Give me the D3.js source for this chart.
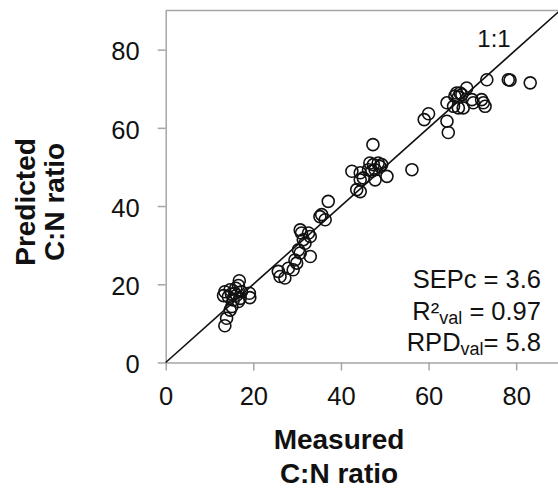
<!DOCTYPE html>
<html><head><meta charset="utf-8">
<script src="https://cdn.jsdelivr.net/npm/d3@7"></script>
<style>
html,body{margin:0;padding:0;background:#fff;}
text{font-family:"Liberation Sans",Arial,sans-serif;fill:#111;}
</style></head>
<body>
<svg id="chart" width="558" height="488"></svg>
<script>
// Measured C:N ratio (x) vs predicted C:N ratio (y)
const measured = [
 16.8,16.6,13.5,13.2,14.7,15.8,17.3,19.1,19.2,15.4,16.6,15.1,14.7,13.9,13.5,15.0,16.2,17.0,14.3,16.0,
 37.1,35.6,36.4,35.2,30.7,31.0,32.6,33.0,31.4,31.8,30.3,30.7,33.0,29.5,29.9,28.0,29.1,25.7,26.1,27.2,
 47.3,42.5,46.6,47.4,48.5,48.9,49.3,46.3,47.0,47.8,44.4,45.1,44.4,47.8,50.5,43.6,44.4,56.2,
 59.0,60.0,64.2,64.2,64.5,
 73.3,78.2,78.6,83.2,68.7,66.4,67.2,67.6,66.0,66.8,65.7,66.8,67.9,69.9,70.2,72.1,72.5,72.9
];
const predicted = [
 20.9,19.7,18.1,17.1,18.6,17.7,18.1,17.7,16.6,16.0,15.6,14.3,13.4,11.3,9.4,17.5,17.2,16.4,16.8,19.0,
 41.2,37.8,36.5,37.3,33.9,33.1,33.1,32.2,31.4,30.5,28.8,28.0,27.1,26.2,25.4,24.1,23.7,23.3,22.0,21.6,
 55.7,48.9,51.0,50.6,51.0,50.1,50.6,49.3,48.9,49.3,48.5,47.2,46.7,46.7,47.6,44.2,43.7,49.3,
 62.1,63.6,66.4,61.7,58.8,
 72.3,72.3,72.2,71.5,70.2,68.9,68.9,68.5,68.1,67.9,65.5,65.1,65.1,67.2,66.4,67.2,66.4,65.5
];
const xTicks = [0,20,40,60,80];
const yTicks = [0,20,40,60,80];
const statLines = [
  {main:"SEPc = 3.6", sub:null, rest:null},
  {main:"R²", sub:"val", rest:" = 0.97"},
  {main:"RPD", sub:"val", rest:"= 5.8"}
];

const svg = d3.select("#chart");
const x = d3.scaleLinear().domain([0,90]).range([165.7,560]);
const y = d3.scaleLinear().domain([0,90]).range([362.5,10.5]);
const axisColor = "#a6a6a6";

// frame (top border)
svg.append("line").attr("x1",x(0)).attr("x2",x(90)).attr("y1",y(90)).attr("y2",y(90))
  .attr("stroke",axisColor).attr("stroke-width",1.5);

// axes
const gx = svg.append("g").attr("transform",`translate(0,${y(0)})`)
  .call(d3.axisBottom(x).tickValues(xTicks).tickSize(8).tickSizeOuter(0).tickPadding(16));
const gy = svg.append("g").attr("transform",`translate(${x(0)},0)`)
  .call(d3.axisLeft(y).tickValues(yTicks).tickSize(8).tickSizeOuter(0).tickPadding(18));
[gx,gy].forEach(g=>{
  g.select(".domain").attr("stroke",axisColor).attr("stroke-width",1.5);
  g.selectAll(".tick line").attr("stroke",axisColor).attr("stroke-width",1.5);
  g.selectAll(".tick text").attr("fill","#111").style("font-size","25.5px")
    .style("font-family","'Liberation Sans',Arial,sans-serif");
});
gy.selectAll(".tick text").attr("dy","0.4em");

// 1:1 line
svg.append("line").attr("x1",x(0)).attr("y1",y(0)).attr("x2",x(90)).attr("y2",y(90))
  .attr("stroke","#111").attr("stroke-width",1.6);
svg.append("text").attr("x",494).attr("y",47).attr("text-anchor","middle")
  .style("font-size","24px").text("1:1");

// points
svg.append("g").selectAll("circle").data(measured.map((m,i)=>[m,predicted[i]]))
  .join("circle").attr("cx",d=>x(d[0])).attr("cy",d=>y(d[1])).attr("r",6)
  .attr("fill","none").attr("stroke","#111").attr("stroke-width",1.6);

// stats
const baseY = [288,320,351];
statLines.forEach((s,i)=>{
  const t = svg.append("text").attr("x",541).attr("y",baseY[i]).attr("text-anchor","end")
    .style("font-size","25.5px");
  t.append("tspan").text(s.main);
  if(s.sub){
    t.append("tspan").attr("dy",4).style("font-size","18px").text(s.sub);
    t.append("tspan").attr("dy",-4).text(s.rest);
  }
});

// axis titles
const xt = svg.append("text").attr("text-anchor","middle").style("font-size","28px").style("font-weight","bold");
xt.append("tspan").attr("x",339).attr("y",449).text("Measured");
xt.append("tspan").attr("x",339).attr("y",483).text("C:N ratio");
const yt = svg.append("text").attr("transform","translate(0,202) rotate(-90)")
  .attr("text-anchor","middle").style("font-size","28px").style("font-weight","bold");
yt.append("tspan").attr("x",0).attr("y",35).text("Predicted");
yt.append("tspan").attr("x",0).attr("y",64).text("C:N ratio");
</script>
</body></html>
